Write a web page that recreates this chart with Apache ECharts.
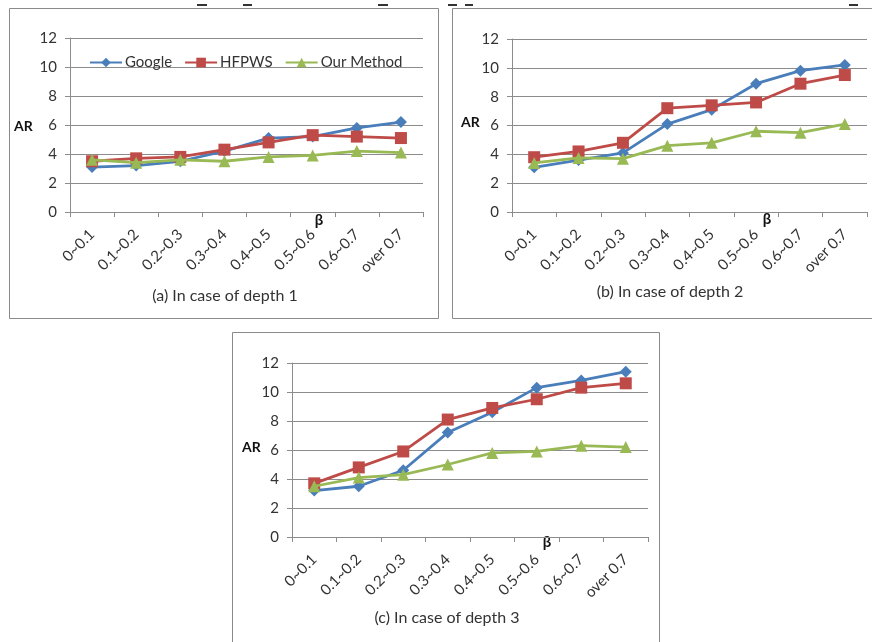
<!DOCTYPE html>
<html><head><meta charset="utf-8">
<script src="https://cdn.jsdelivr.net/npm/echarts@6/dist/echarts.min.js"></script>
<style>html,body{margin:0;padding:0;background:#fff}#c{width:872px;height:642px}</style>
</head><body><div id="c"></div>
<script>
const categories = ['0~0.1','0.1~0.2','0.2~0.3','0.3~0.4','0.4~0.5','0.5~0.6','0.6~0.7','over 0.7'];
const seriesNames = ['Google','HFPWS','Our Method'];
const captions = ['(a) In case of depth 1','(b) In case of depth 2','(c) In case of depth 3'];
// depth 1
const googleD1 = [3.1, 3.2, 3.5, 4.2, 5.1, 5.2, 5.8, 6.2];
const hfpwsD1  = [3.5, 3.7, 3.8, 4.3, 4.8, 5.3, 5.2, 5.1];
const oursD1   = [3.6, 3.4, 3.6, 3.5, 3.8, 3.9, 4.2, 4.1];
// depth 2
const googleD2 = [3.1, 3.6, 4.1, 6.1, 7.1, 8.9, 9.8, 10.2];
const hfpwsD2  = [3.8, 4.2, 4.8, 7.2, 7.4, 7.6, 8.9, 9.5];
const oursD2   = [3.4, 3.75, 3.7, 4.6, 4.8, 5.6, 5.5, 6.1];
// depth 3
const googleD3 = [3.2, 3.5, 4.6, 7.2, 8.6, 10.3, 10.8, 11.4];
const hfpwsD3  = [3.7, 4.8, 5.9, 8.1, 8.9, 9.5, 10.3, 10.6];
const oursD3   = [3.5, 4.1, 4.3, 5.0, 5.8, 5.9, 6.3, 6.2];
const yTicks = [0, 2, 4, 6, 8, 10, 12];

const FONT = 'Lato, "Open Sans", sans-serif';
const colors = ['#4A7EBB', '#BE4B48', '#98B954'];
const symbols = ['diamond', 'rect', 'triangle'];
const symbolSizes = [12, 12, 12];
const data = [[googleD1, hfpwsD1, oursD1],[googleD2, hfpwsD2, oursD2],[googleD3, hfpwsD3, oursD3]];

const grids = [
  {left: 70, top: 38, width: 353, height: 174},
  {left: 512, top: 39, width: 355, height: 173},
  {left: 292, top: 363, width: 356, height: 174}
];
const panels = [
  {x: 9, y: 8, w: 429, h: 310, ar: [14, 126], beta: [319, 220], cap: [225, 296]},
  {x: 452, y: 8, w: 440, h: 310, ar: [461, 122], beta: [767, 219], cap: [670, 292]},
  {x: 232, y: 332, w: 427, h: 340, ar: [242, 447], beta: [547, 542], cap: [447, 618]}
];

const xAxes = grids.map((g, i) => ({
  type: 'category', gridIndex: i, data: categories, boundaryGap: true,
  axisLine: {lineStyle: {color: '#8c8c8c', width: 1}},
  axisTick: {show: true, length: 5, lineStyle: {color: '#8c8c8c'}},
  axisLabel: {rotate: 45, color: '#333', fontFamily: FONT, fontSize: 15, margin: 20, interval: 0}
}));
const yAxes = grids.map((g, i) => ({
  type: 'value', gridIndex: i, min: yTicks[0], max: yTicks[yTicks.length - 1], interval: 2,
  axisLine: {show: true, lineStyle: {color: '#8c8c8c', width: 1}},
  axisTick: {show: true, length: 5, lineStyle: {color: '#8c8c8c'}},
  splitLine: {lineStyle: {color: '#8c8c8c', width: 1}},
  axisLabel: {color: '#333', fontFamily: FONT, fontSize: 15, margin: 13}
}));

const series = [];
data.forEach((panelData, p) => {
  panelData.forEach((vals, s) => {
    series.push({
      name: seriesNames[s], type: 'line', xAxisIndex: p, yAxisIndex: p,
      data: vals, symbol: symbols[s], symbolSize: symbolSizes[s], showSymbol: true,
      lineStyle: {color: colors[s], width: 2.8},
      itemStyle: {color: colors[s]},
      z: 3 + s
    });
  });
});

const graphics = [];
panels.forEach((pn, i) => {
  graphics.push({type: 'rect', shape: {x: pn.x + 0.5, y: pn.y + 0.5, width: pn.w, height: pn.h},
    style: {fill: 'none', stroke: '#8a8a8a', lineWidth: 1}, z: -1});
  graphics.push({type: 'text', x: pn.ar[0], y: pn.ar[1], style: {text: 'AR', font: 'bold 14px ' + FONT, fill: '#111', textVerticalAlign: 'middle'}});
  graphics.push({type: 'text', x: pn.beta[0], y: pn.beta[1], style: {text: 'β', font: 'bold 15px ' + FONT, fill: '#111', textAlign: 'center', textVerticalAlign: 'middle'}});
  graphics.push({type: 'text', x: pn.cap[0], y: pn.cap[1], style: {text: captions[i], font: '16px ' + FONT, fill: '#333', textAlign: 'center', textVerticalAlign: 'middle'}});
});
// cut-off marks of text above the image edge
[[197, 10], [243, 9], [378, 10], [448, 9], [465, 8], [849, 9]].forEach(([x, w]) => {
  graphics.push({type: 'rect', shape: {x: x, y: 4, width: w, height: 2}, style: {fill: '#333'}});
});

const chart = echarts.init(document.getElementById('c'), null, {renderer: 'canvas'});
chart.setOption({
  backgroundColor: '#fff',
  animation: false,
  legend: {
    data: seriesNames, left: 84, top: 50, itemWidth: 32, itemHeight: 12, itemGap: 12,
    textStyle: {fontFamily: FONT, fontSize: 15, color: '#333', padding: [0, 0, 0, -2]}
  },
  grid: grids,
  xAxis: xAxes,
  yAxis: yAxes,
  series: series,
  graphic: graphics
});
</script></body></html>
